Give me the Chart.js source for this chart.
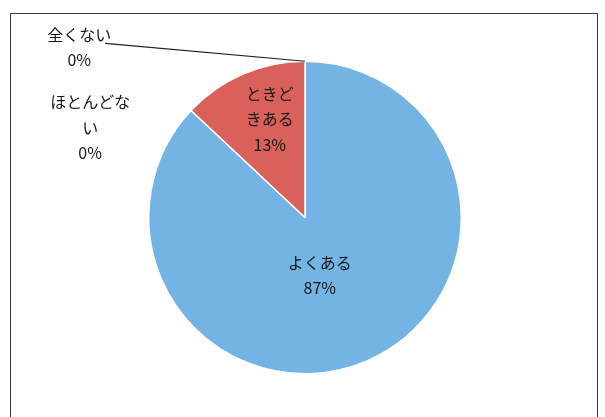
<!DOCTYPE html>
<html>
<head>
<meta charset="utf-8">
<script src="https://cdn.jsdelivr.net/npm/chart.js@4/dist/chart.umd.min.js"></script>
<style>
    html, body { margin: 0; padding: 0; background: #fff; }
    #wrap { position: relative; width: 605px; height: 417px; overflow: hidden; }
    #frame { position: absolute; left: 10px; top: 13px; width: 586px; height: 420px; border: 1.5px solid #3a3a3a; }
    #chart { position: absolute; left: 0; top: 0; }
</style>
</head>
<body>
<div id="wrap">
    <div id="frame"></div>
    <canvas id="chart" width="605" height="417"></canvas>
</div>
<script>
var categories = ["よくある", "ときどきある", "ほとんどない", "全くない"];
var values = [87, 13, 0, 0];
var percentLabels = ["87%", "13%", "0%", "0%"];
// how each category name wraps in the picture
var nameLines = [["よくある"], ["ときど", "きある"], ["ほとんどな", "い"], ["全くない"]];

var sliceColors = ["#74b4e4", "#da605a", "#a5a5a5", "#ffc000"];

// label centre, in units of the pie radius from the pie centre
var labelSpots = [
    { dx: 0.095, dy: 0.37 },
    { dx: -0.225, dy: -0.63 },
    { dx: -1.375, dy: -0.575 },
    { dx: -1.445, dy: -1.09 }
];
var lineGap = 25.5;

var labelPlugin = {
    id: "pieLabels",
    afterDraw: function (chart) {
        let ctx = chart.ctx;
        let arcs = chart.getDatasetMeta(0).data;
        ctx.save();
        ctx.font = "16px 'Noto Sans CJK JP'";
        ctx.fillStyle = "#161616";
        ctx.textAlign = "center";
        ctx.textBaseline = "middle";
        for (let i = 0; i < arcs.length; i++) {
            let p = arcs[i].getProps(["x", "y", "outerRadius"], true);
            let lines = nameLines[i].concat([percentLabels[i]]);
            let cx = p.x + labelSpots[i].dx * p.outerRadius;
            let cy = p.y + labelSpots[i].dy * p.outerRadius;
            let top = cy - (lines.length - 1) * lineGap / 2;
            for (let k = 0; k < lines.length; k++) {
                ctx.fillText(lines[k], cx, top + k * lineGap);
            }
            // leader line for the label that sits far from its slice
            if (i === 3) {
                ctx.strokeStyle = "#1e1e1e";
                ctx.lineWidth = 1.2;
                ctx.beginPath();
                ctx.moveTo(cx + 26, top + 9);
                ctx.lineTo(p.x, p.y - p.outerRadius);
                ctx.stroke();
            }
        }
        ctx.restore();
    }
};

var chart = new Chart(document.getElementById("chart").getContext("2d"), {
    type: "pie",
    data: {
        labels: categories,
        datasets: [{
            data: values,
            backgroundColor: sliceColors,
            borderColor: "#ffffff",
            borderWidth: 1.5
        }]
    },
    options: {
        responsive: false,
        animation: false,
        layout: {
            padding: { top: 60, bottom: 42, left: 148, right: 143 }
        },
        plugins: {
            legend: { display: false },
            tooltip: { enabled: false }
        }
    },
    plugins: [labelPlugin]
});
</script>
</body>
</html>
